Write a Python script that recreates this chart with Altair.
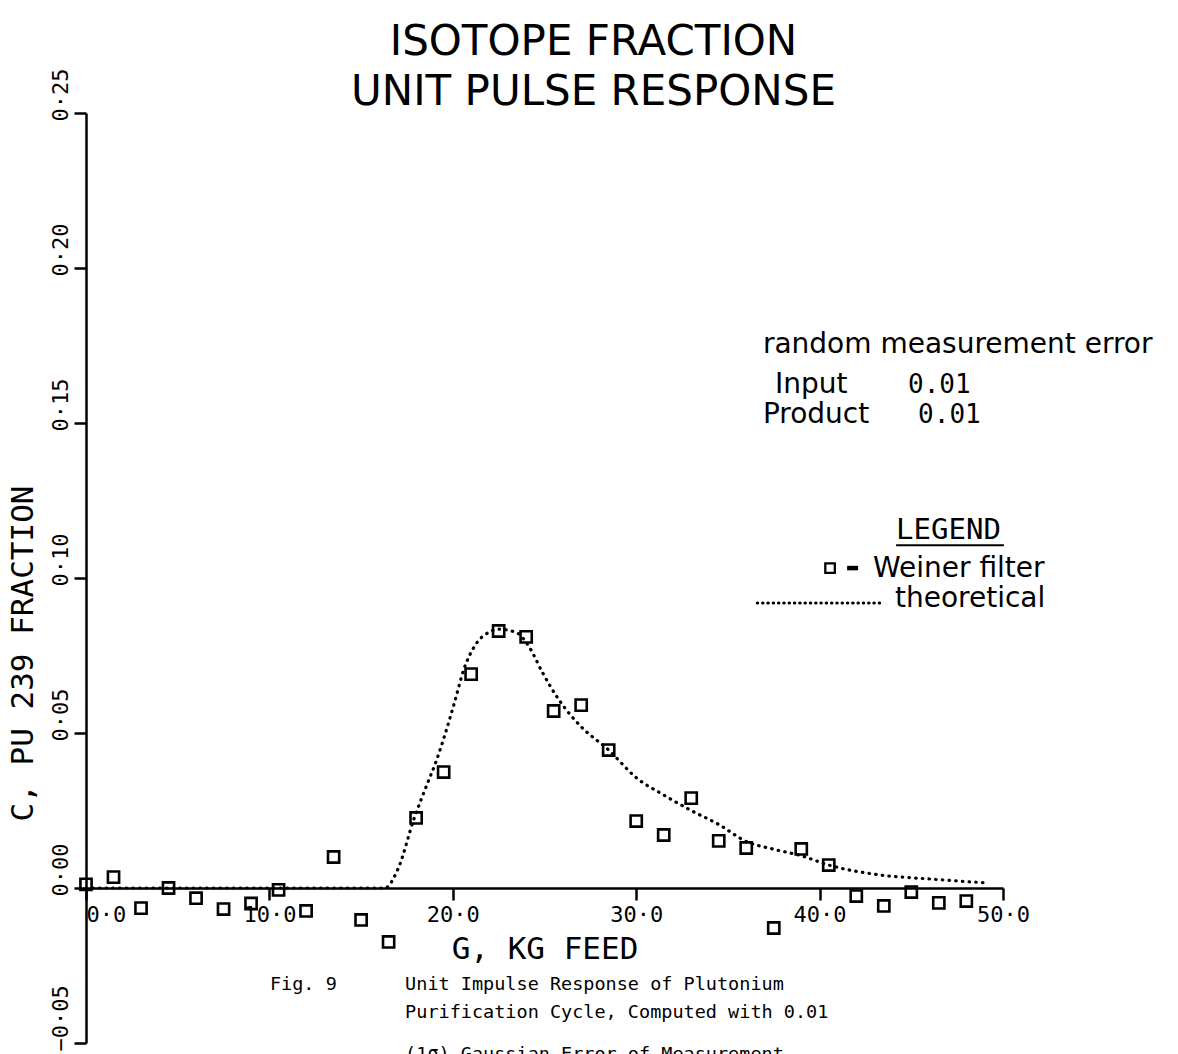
import altair as alt
import pandas as pd

# ---- data -------------------------------------------------------------
# Weiner-filter estimates of the unit pulse response (sampled every 1.5 kg)
feed_kg = [0.0, 1.5, 3.0, 4.5, 6.0, 7.5, 9.0, 10.5, 12.0, 13.5, 15.0, 16.5,
           18.0, 19.5, 21.0, 22.5, 24.0, 25.5, 27.0, 28.5, 30.0, 31.5, 33.0,
           34.5, 36.0, 37.5, 39.0, 40.5, 42.0, 43.5, 45.0, 46.5, 48.0]
weiner = [0.0012, 0.0035, -0.0065, 0.0000, -0.0033, -0.0068, -0.0050,
          -0.0006, -0.0074, 0.0100, -0.0103, -0.0174, 0.0226, 0.0374,
          0.0690, 0.0829, 0.0810, 0.0571, 0.0590, 0.0445, 0.0216, 0.0171,
          0.0290, 0.0152, 0.0129, -0.0129, 0.0126, 0.0074, -0.0026,
          -0.0058, -0.0013, -0.0048, -0.0042]

# theoretical response curve
theory_g = [0.0, 16.3, 17.0, 17.9, 18.5, 19.1, 19.6, 20.1, 20.6, 21.3, 22.0,
            22.5, 23.5, 24.2, 24.9, 25.8, 27.0, 28.5, 30.0, 31.5, 33.0, 34.5,
            36.0, 37.5, 39.0, 40.5, 43.3, 46.0, 49.2]
theory_c = [0.0, 0.0, 0.0060, 0.0226, 0.0320, 0.0410, 0.0500, 0.0600, 0.0705,
            0.0790, 0.0826, 0.0835, 0.0823, 0.0774, 0.0694, 0.0606, 0.0520,
            0.0445, 0.0356, 0.0300, 0.0250, 0.0205, 0.0150, 0.0125, 0.0104,
            0.0074, 0.0042, 0.0029, 0.0016]

x_ticks = [0, 10, 20, 30, 40, 50]
y_ticks = [-0.05, 0.0, 0.05, 0.10, 0.15, 0.20, 0.25]

title_lines = ["ISOTOPE FRACTION", "UNIT PULSE RESPONSE"]
x_title = "G, KG FEED"
y_title = "C, PU 239 FRACTION"

# annotation block (text, g, c)
note_text = ["random measurement error", "Input", "Product"]
note_g = [36.91, 37.57, 36.91]
note_c = [0.1726, 0.1597, 0.1500]
note_vals = ["0.01", "0.01"]
note_vals_g = [44.82, 45.37]
note_vals_c = [0.1597, 0.1500]

legend_head = "LEGEND"
legend_items = ["Weiner filter", "theoretical"]
legend_items_g = [42.91, 44.11]
legend_items_c = [0.1003, 0.0906]

caption_fig = "Fig. 9"
caption_lines = ["Unit Impulse Response of Plutonium",
                 "Purification Cycle, Computed with 0.01",
                 "(1\u03c3) Gaussian Error of Measurement"]
caption_c = [-0.0329, -0.0420, -0.0555]

# ---- layout -----------------------------------------------------------
W, H = 917, 930
MONO = "DejaVu Sans Mono"
SANS = "DejaVu Sans"

xs = alt.Scale(domain=[0, 50], nice=False, zero=False)
ys = alt.Scale(domain=[-0.05, 0.25], nice=False, zero=False)

x_axis = alt.Axis(
    values=x_ticks, title=x_title, grid=False,
    offset=-H * 0.05 / 0.30,
    labelExpr="replace(format(datum.value, '.1f'), '.', '\u00b7')",
    labelFont=MONO, labelFontSize=22, labelColor="black",
    labelAlign={"condition": {"test": "datum.value == 0", "value": "left"},
                "value": "center"},
    labelPadding=4, labelFlush=False, labelOverlap=False,
    tickSize=12, tickWidth=2.5, tickColor="black",
    domainWidth=2.5, domainColor="black",
    titleFont=MONO, titleFontSize=31, titleFontWeight="normal",
    titleColor="black", titleBaseline="alphabetic", titleY=70,
)
y_axis = alt.Axis(
    values=y_ticks, title=y_title, grid=False,
    labelExpr="replace(format(datum.value, '.2f'), '.', '\u00b7')",
    labelFont=MONO, labelFontSize=22, labelColor="black",
    labelAngle=270, labelAlign="left", labelBaseline="alphabetic",
    labelPadding=7, labelOffset=8, labelFlush=False, labelOverlap=False,
    tickSize=12, tickWidth=2.5, tickColor="black",
    domainWidth=2.5, domainColor="black",
    titleFont=MONO, titleFontSize=31, titleFontWeight="normal",
    titleColor="black", titleAngle=270, titleAlign="center",
    titleBaseline="alphabetic", titleX=-54, titleY=540,
)

X = alt.X("g:Q", scale=xs, axis=x_axis)
Y = alt.Y("c:Q", scale=ys, axis=y_axis)

pts = pd.DataFrame({"g": feed_kg, "c": weiner})
theory = pd.DataFrame({"g": theory_g, "c": theory_c})

DOTS = [0.5, 6.2]

curve = alt.Chart(theory).mark_line(
    color="black", strokeWidth=3.2, strokeDash=DOTS, strokeCap="round",
    interpolate="monotone",
).encode(x=X, y=Y)

points = alt.Chart(pts).mark_point(
    shape="square", filled=False, size=125, strokeWidth=2.6,
    color="black", opacity=1,
).encode(x=X, y=Y)


def text_layer(labels, gs, cs, font, size):
    df = pd.DataFrame({"g": gs, "c": cs, "t": labels})
    return alt.Chart(df).mark_text(
        align="left", baseline="alphabetic", font=font, fontSize=size,
        color="black",
    ).encode(x=X, y=Y, text="t:N")


notes = text_layer(note_text, note_g, note_c, SANS, 28)
note_values = text_layer(note_vals, note_vals_g, note_vals_c, MONO, 26)
legend_title = text_layer([legend_head], [44.17], [0.1126], MONO, 29)
legend_text = text_layer(legend_items, legend_items_g, legend_items_c, SANS, 28)
cap_fig = text_layer([caption_fig], [10.03], [caption_c[0]], MONO, 18.5)
cap_body = text_layer(caption_lines, [17.4] * 3, caption_c, MONO, 18.5)

# legend underline and swatches
underline = alt.Chart(pd.DataFrame({"g": [44.17], "g2": [50.05], "c": [0.1106]})).mark_rule(
    color="black", strokeWidth=2
).encode(x=X, x2="g2:Q", y=Y)

swatch_sq = alt.Chart(pd.DataFrame({"g": [40.57], "c": [0.1032]})).mark_point(
    shape="square", filled=False, size=90, strokeWidth=2.3, color="black", opacity=1
).encode(x=X, y=Y)

swatch_dash = alt.Chart(pd.DataFrame({"g": [41.5], "g2": [42.1], "c": [0.1032]})).mark_rule(
    color="black", strokeWidth=4.5
).encode(x=X, x2="g2:Q", y=Y)

swatch_dots = alt.Chart(pd.DataFrame({"g": [36.6], "g2": [43.4], "c": [0.0919]})).mark_rule(
    color="black", strokeWidth=3, strokeDash=[0.5, 4.8], strokeCap="round"
).encode(x=X, x2="g2:Q", y=Y)

chart = alt.layer(
    curve, points, notes, note_values, legend_title, underline, legend_text,
    swatch_sq, swatch_dash, swatch_dots, cap_fig, cap_body,
).properties(
    width=W, height=H,
    title=alt.TitleParams(
        title_lines, font=SANS, fontSize=42, fontWeight="normal",
        color="black", anchor="middle", frame="group", dx=49,
        lineHeight=50, offset=-46,
    ),
    autosize=alt.AutoSizeParams(type="none"),
    padding={"left": 86, "top": 113, "right": 1178 - 86 - W, "bottom": 1054 - 113 - H},
    background="white",
).configure_view(strokeWidth=0)

chart.save("out.html", embed_options={"renderer": "svg", "actions": False})
